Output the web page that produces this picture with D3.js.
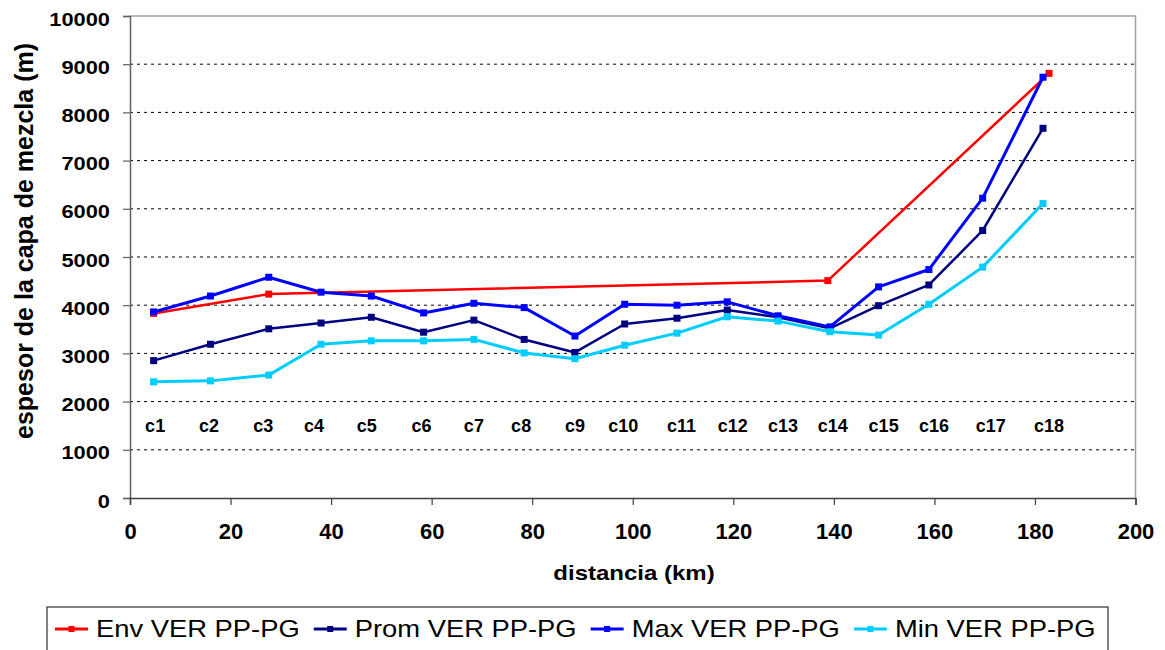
<!DOCTYPE html>
<html><head><meta charset="utf-8">
<script src="https://cdn.jsdelivr.net/npm/d3@7"></script>
<style>body{margin:0;background:#fff}svg{display:block}text{font-family:Arial,"Liberation Sans",sans-serif}</style>
</head><body><svg id="c" width="1165" height="650"></svg>
<script>
// ---- data ----
const categories = ["c1","c2","c3","c4","c5","c6","c7","c8","c9","c10","c11","c12","c13","c14","c15","c16","c17","c18"];
const distKm  = [4.7,16.0,27.6,38.0,48.0,58.4,68.4,78.4,88.5,98.4,108.8,118.8,128.9,139.2,148.9,158.9,169.6,181.6];
const labelKm = [5.0,15.7,26.5,36.6,47.1,58.0,68.4,77.8,88.5,98.1,109.7,119.9,129.9,139.8,149.9,159.9,171.2,182.8];
const labelLevel = 1500;
const promValues = [2850,3190,3510,3630,3750,3440,3690,3290,3020,3610,3730,3900,3750,3520,3990,4420,5550,7670];
const maxValues  = [3860,4190,4580,4270,4190,3840,4040,3950,3360,4020,4000,4070,3780,3550,4380,4740,6220,8730];
const minValues  = [2410,2430,2550,3190,3260,3260,3290,3010,2890,3170,3420,3760,3670,3450,3380,4020,4790,6110];
const envKm     = [4.7,27.6,138.8,182.8];
const envValues = [3830,4230,4510,8810];
const xTicks = [0,20,40,60,80,100,120,140,160,180,200];
const yTicks = [0,1000,2000,3000,4000,5000,6000,7000,8000,9000,10000];
const seriesNames  = ["Env VER PP-PG","Prom VER PP-PG","Max VER PP-PG","Min VER PP-PG"];
const seriesColors = ["#ff0000","#000080","#0000ff","#00ccff"];
const xTitle = "distancia (km)";
const yTitle = "espesor de la capa de mezcla (m)";

// ---- layout ----
const svg = d3.select("#c");
const L = 130, R = 1135.5, T = 16, B = 498;
const x = d3.scaleLinear().domain([0,200]).range([L,R]);
const y = d3.scaleLinear().domain([0,10000]).range([B,T]);

function sText(parent, px, py, str, size, sx, anchor, weight){
  const g = parent.append("g").attr("transform",`translate(${px},${py}) scale(${sx},1)`);
  return g.append("text").attr("x",0).attr("y",0).attr("text-anchor",anchor)
    .attr("font-size",size).attr("font-weight",weight).attr("fill","#000").text(str);
}

// grid
svg.append("g").selectAll("line").data(yTicks.filter(v=>v>0 && v<10000)).join("line")
  .attr("x1",L).attr("x2",R).attr("y1",d=>y(d)).attr("y2",d=>y(d))
  .attr("stroke","#000").attr("stroke-width",1).attr("stroke-dasharray","3,4");
// plot border top/right
svg.append("path").attr("d",`M${L},${T}H${R}V${B}`).attr("fill","none").attr("stroke","#a0a0a0").attr("stroke-width",1.5);

// axes
const gy = svg.append("g").attr("transform",`translate(${L},0)`)
  .call(d3.axisLeft(y).tickValues(yTicks).tickSize(7).tickFormat(d3.format("d")));
gy.select(".domain").attr("stroke","#606060").attr("stroke-width",1.5);
gy.selectAll(".tick line").attr("stroke","#606060").attr("stroke-width",1.2);
gy.selectAll(".tick text").attr("font-size",18.5).attr("font-weight","bold").attr("fill","#000")
  .attr("font-family","Arial, 'Liberation Sans', sans-serif")
  .attr("transform","scale(1.18,1)").attr("x",-20/1.18).attr("dy",null).attr("y",9);

const gx = svg.append("g").attr("transform",`translate(0,${B})`)
  .call(d3.axisBottom(x).tickValues(xTicks).tickSize(7).tickFormat(d3.format("d")));
gx.select(".domain").attr("stroke","#404040").attr("stroke-width",1.5);
gx.selectAll(".tick line").attr("stroke","#404040").attr("stroke-width",1.2);
gx.selectAll(".tick text").attr("font-size",22).attr("font-weight","bold").attr("fill","#000")
  .attr("font-family","Arial, 'Liberation Sans', sans-serif")
  .attr("dy",null).attr("y",41);

// titles
sText(svg, 634, 580, xTitle, 20, 1.2, "middle", "bold");
svg.append("text").attr("transform",`translate(33,241) rotate(-90)`).attr("text-anchor","middle")
  .attr("font-size",25).attr("font-weight","bold").attr("fill","#000").text(yTitle);

// category labels
const gl = svg.append("g");
categories.forEach((c,i)=>{ sText(gl, x(labelKm[i]), y(labelLevel)+6, c, 18, 1.0, "middle", "bold"); });

// series
const series = [
  {name:seriesNames[0], color:seriesColors[0], xs:envKm, vs:envValues, w:2.5},
  {name:seriesNames[1], color:seriesColors[1], xs:distKm, vs:promValues, w:2.5},
  {name:seriesNames[2], color:seriesColors[2], xs:distKm, vs:maxValues, w:3},
  {name:seriesNames[3], color:seriesColors[3], xs:distKm, vs:minValues, w:3}
];
const line = d3.line().x(d=>x(d[0])).y(d=>y(d[1]));
series.forEach(s=>{
  const pts = s.xs.map((k,i)=>[k,s.vs[i]]);
  const g = svg.append("g");
  g.append("path").attr("d",line(pts)).attr("fill","none").attr("stroke",s.color)
    .attr("stroke-width",s.w).attr("stroke-linejoin","round");
  g.selectAll("rect").data(pts).join("rect")
    .attr("x",d=>x(d[0])-3.5).attr("y",d=>y(d[1])-3.5).attr("width",7).attr("height",7)
    .attr("fill",s.color);
});

// legend
const lg = svg.append("g");
lg.append("rect").attr("x",47).attr("y",607).attr("width",1061).attr("height",60)
  .attr("fill","#fff").attr("stroke","#303030").attr("stroke-width",1.2);
let lx = 55;
series.forEach(s=>{
  lg.append("line").attr("x1",lx).attr("x2",lx+33).attr("y1",629).attr("y2",629)
    .attr("stroke",s.color).attr("stroke-width",3);
  lg.append("rect").attr("x",lx+13.5).attr("y",626).attr("width",6).attr("height",6).attr("fill",s.color);
  const t = sText(lg, lx+41, 637, s.name, 23, 1.19, "start", "normal");
  const w = t.node().getComputedTextLength()*1.19;
  lx = lx + 41 + w + 14;
});
</script></body></html>
